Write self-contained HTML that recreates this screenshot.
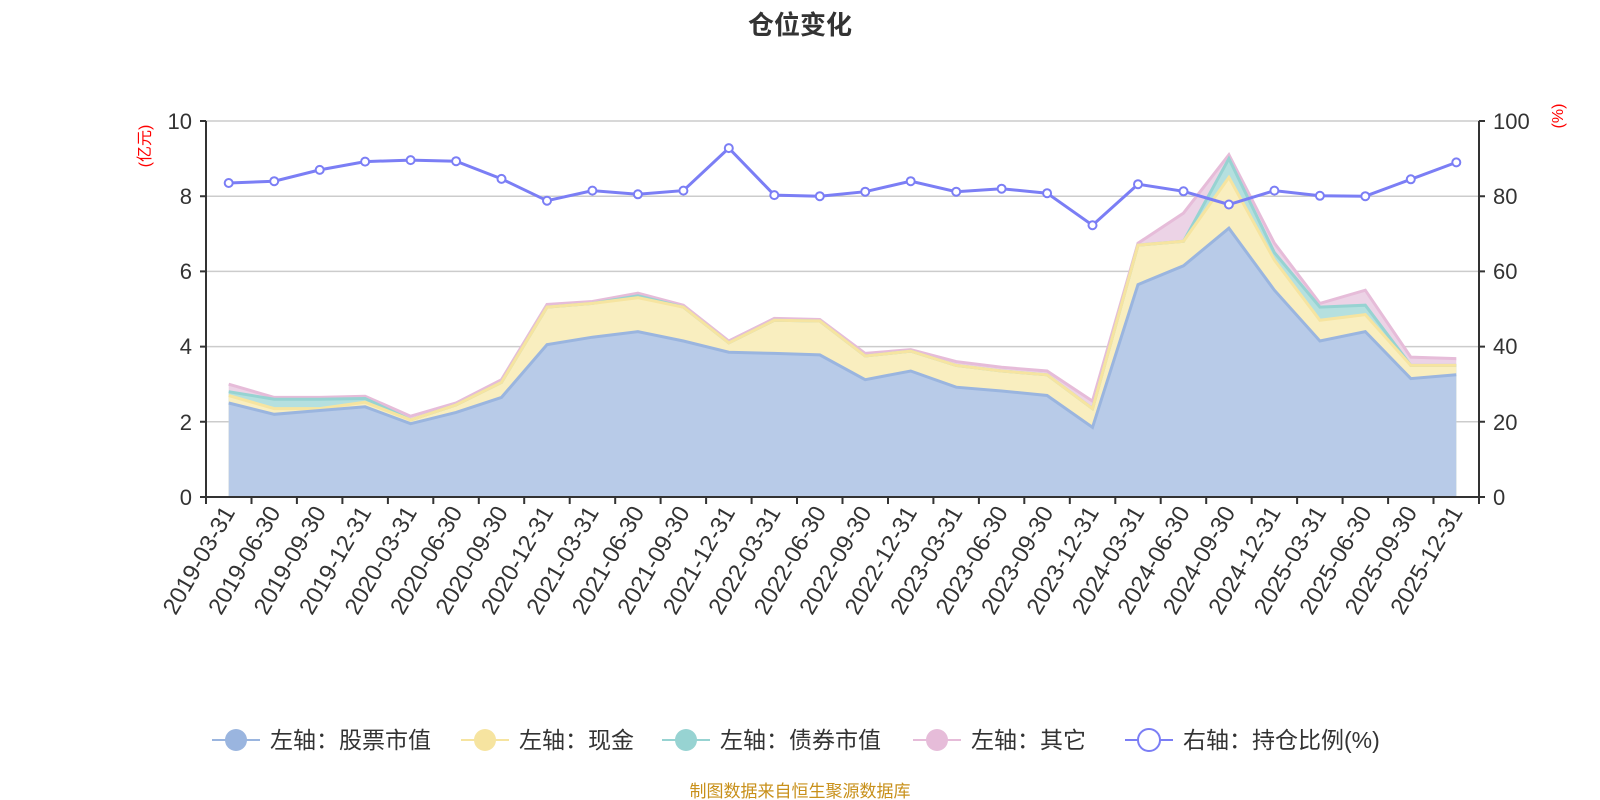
<!DOCTYPE html><html><head><meta charset="utf-8"><style>body{margin:0;background:#fff}svg{display:block}text{font-family:"Liberation Sans","Noto Sans CJK SC",sans-serif}</style></head><body>
<svg width="1600" height="800" xmlns="http://www.w3.org/2000/svg">
<text x="800" y="34" text-anchor="middle" font-size="26" font-weight="bold" fill="#333">仓位变化</text>
<g stroke="#ccc" stroke-width="1.5">
<line x1="206" x2="1479" y1="121" y2="121"/><line x1="206" x2="1479" y1="196.2" y2="196.2"/><line x1="206" x2="1479" y1="271.4" y2="271.4"/><line x1="206" x2="1479" y1="346.6" y2="346.6"/><line x1="206" x2="1479" y1="421.8" y2="421.8"/>
</g>
<g font-size="22" fill="#333">
<g text-anchor="end"><text x="192" y="129">10</text><text x="192" y="204">8</text><text x="192" y="279">6</text><text x="192" y="354">4</text><text x="192" y="430">2</text><text x="192" y="505">0</text></g>
<text x="1493" y="129">100</text><text x="1493" y="204">80</text><text x="1493" y="279">60</text><text x="1493" y="354">40</text><text x="1493" y="430">20</text><text x="1493" y="505">0</text>
</g>
<text transform="translate(150,146) rotate(-90)" text-anchor="middle" font-size="16" fill="red">(亿元)</text>
<text transform="translate(1563,116) rotate(-90)" text-anchor="middle" font-size="16" fill="red">(%)</text>

<polygon fill="#ecd3e6" points="228.7,384.2 274.2,397.4 319.7,397.4 365.1,396.2 410.6,416.2 456.1,403.0 501.5,379.7 547.0,304.5 592.4,301.5 637.9,293.2 683.4,305.2 728.8,341.0 774.3,318.4 819.8,319.5 865.2,353.4 910.7,349.6 956.2,361.6 1001.6,367.3 1047.1,371.0 1092.5,401.1 1138.0,243.2 1183.5,213.1 1228.9,154.8 1274.4,243.2 1319.9,303.4 1365.3,290.2 1410.8,357.1 1456.3,358.6 1456.3,497 228.7,497"/>
<polygon fill="#b5e0df" points="228.7,391.7 274.2,399.2 319.7,399.2 365.1,398.5 410.6,419.9 456.1,404.9 501.5,382.3 547.0,307.1 592.4,303.4 637.9,295.8 683.4,307.1 728.8,342.8 774.3,320.3 819.8,321.0 865.2,356.0 910.7,351.1 956.2,365.4 1001.6,371.0 1047.1,374.8 1092.5,408.6 1138.0,245.1 1183.5,241.3 1228.9,158.6 1274.4,252.6 1319.9,307.1 1365.3,305.2 1410.8,365.4 1456.3,365.4 1456.3,497 228.7,497"/>
<polygon fill="#f9eebf" points="228.7,395.5 274.2,408.6 319.7,408.6 365.1,402.2 410.6,419.9 456.1,404.9 501.5,382.3 547.0,307.1 592.4,303.4 637.9,297.7 683.4,307.1 728.8,342.8 774.3,320.3 819.8,321.0 865.2,356.0 910.7,351.1 956.2,365.4 1001.6,371.0 1047.1,374.8 1092.5,408.6 1138.0,245.1 1183.5,241.3 1228.9,177.4 1274.4,260.1 1319.9,320.3 1365.3,314.6 1410.8,365.4 1456.3,365.4 1456.3,497 228.7,497"/>
<polygon fill="#b8cbe8" points="228.7,403.0 274.2,414.3 319.7,410.5 365.1,406.8 410.6,423.7 456.1,412.4 501.5,397.4 547.0,344.7 592.4,337.2 637.9,331.6 683.4,341.0 728.8,352.2 774.3,353.4 819.8,354.9 865.2,379.7 910.7,371.0 956.2,387.2 1001.6,391.0 1047.1,395.5 1092.5,427.4 1138.0,284.6 1183.5,265.8 1228.9,228.2 1274.4,290.2 1319.9,341.0 1365.3,331.6 1410.8,378.6 1456.3,374.8 1456.3,497 228.7,497"/>
<g fill="none" stroke-width="3">
<polyline stroke="#e6bcd9" points="228.7,384.2 274.2,397.4 319.7,397.4 365.1,396.2 410.6,416.2 456.1,403.0 501.5,379.7 547.0,304.5 592.4,301.5 637.9,293.2 683.4,305.2 728.8,341.0 774.3,318.4 819.8,319.5 865.2,353.4 910.7,349.6 956.2,361.6 1001.6,367.3 1047.1,371.0 1092.5,401.1 1138.0,243.2 1183.5,213.1 1228.9,154.8 1274.4,243.2 1319.9,303.4 1365.3,290.2 1410.8,357.1 1456.3,358.6"/>
<polyline stroke="#97d3d2" points="228.7,391.7 274.2,399.2 319.7,399.2 365.1,398.5 410.6,419.9 456.1,404.9 501.5,382.3 547.0,307.1 592.4,303.4 637.9,295.8 683.4,307.1 728.8,342.8 774.3,320.3 819.8,321.0 865.2,356.0 910.7,351.1 956.2,365.4 1001.6,371.0 1047.1,374.8 1092.5,408.6 1138.0,245.1 1183.5,241.3 1228.9,158.6 1274.4,252.6 1319.9,307.1 1365.3,305.2 1410.8,365.4 1456.3,365.4"/>
<polyline stroke="#f6e4a0" points="228.7,395.5 274.2,408.6 319.7,408.6 365.1,402.2 410.6,419.9 456.1,404.9 501.5,382.3 547.0,307.1 592.4,303.4 637.9,297.7 683.4,307.1 728.8,342.8 774.3,320.3 819.8,321.0 865.2,356.0 910.7,351.1 956.2,365.4 1001.6,371.0 1047.1,374.8 1092.5,408.6 1138.0,245.1 1183.5,241.3 1228.9,177.4 1274.4,260.1 1319.9,320.3 1365.3,314.6 1410.8,365.4 1456.3,365.4"/>
<polyline stroke="#9ab5df" points="228.7,403.0 274.2,414.3 319.7,410.5 365.1,406.8 410.6,423.7 456.1,412.4 501.5,397.4 547.0,344.7 592.4,337.2 637.9,331.6 683.4,341.0 728.8,352.2 774.3,353.4 819.8,354.9 865.2,379.7 910.7,371.0 956.2,387.2 1001.6,391.0 1047.1,395.5 1092.5,427.4 1138.0,284.6 1183.5,265.8 1228.9,228.2 1274.4,290.2 1319.9,341.0 1365.3,331.6 1410.8,378.6 1456.3,374.8"/>
</g>
<g stroke="#333" stroke-width="2" fill="none">
<path d="M206 121V497H1479V121M200 121H206M200 196.2H206M200 271.4H206M200 346.6H206M200 421.8H206M200 497H206M1479 121H1485M1479 196.2H1485M1479 271.4H1485M1479 346.6H1485M1479 421.8H1485M1479 497H1485"/>
<path d="M206 497v7M251.5 497v7M296.9 497v7M342.4 497v7M387.9 497v7M433.3 497v7M478.8 497v7M524.2 497v7M569.7 497v7M615.2 497v7M660.6 497v7M706.1 497v7M751.6 497v7M797 497v7M842.5 497v7M888 497v7M933.4 497v7M978.9 497v7M1024.3 497v7M1069.8 497v7M1115.3 497v7M1160.7 497v7M1206.2 497v7M1251.7 497v7M1297.1 497v7M1342.6 497v7M1388.1 497v7M1433.5 497v7M1479 497v7"/>
</g>
<g font-size="23.5" fill="#333" text-anchor="end">
<text transform="translate(235.7,512) rotate(-60)">2019-03-31</text>
<text transform="translate(281.2,512) rotate(-60)">2019-06-30</text>
<text transform="translate(326.7,512) rotate(-60)">2019-09-30</text>
<text transform="translate(372.1,512) rotate(-60)">2019-12-31</text>
<text transform="translate(417.6,512) rotate(-60)">2020-03-31</text>
<text transform="translate(463.1,512) rotate(-60)">2020-06-30</text>
<text transform="translate(508.5,512) rotate(-60)">2020-09-30</text>
<text transform="translate(554.0,512) rotate(-60)">2020-12-31</text>
<text transform="translate(599.4,512) rotate(-60)">2021-03-31</text>
<text transform="translate(644.9,512) rotate(-60)">2021-06-30</text>
<text transform="translate(690.4,512) rotate(-60)">2021-09-30</text>
<text transform="translate(735.8,512) rotate(-60)">2021-12-31</text>
<text transform="translate(781.3,512) rotate(-60)">2022-03-31</text>
<text transform="translate(826.8,512) rotate(-60)">2022-06-30</text>
<text transform="translate(872.2,512) rotate(-60)">2022-09-30</text>
<text transform="translate(917.7,512) rotate(-60)">2022-12-31</text>
<text transform="translate(963.2,512) rotate(-60)">2023-03-31</text>
<text transform="translate(1008.6,512) rotate(-60)">2023-06-30</text>
<text transform="translate(1054.1,512) rotate(-60)">2023-09-30</text>
<text transform="translate(1099.5,512) rotate(-60)">2023-12-31</text>
<text transform="translate(1145.0,512) rotate(-60)">2024-03-31</text>
<text transform="translate(1190.5,512) rotate(-60)">2024-06-30</text>
<text transform="translate(1235.9,512) rotate(-60)">2024-09-30</text>
<text transform="translate(1281.4,512) rotate(-60)">2024-12-31</text>
<text transform="translate(1326.9,512) rotate(-60)">2025-03-31</text>
<text transform="translate(1372.3,512) rotate(-60)">2025-06-30</text>
<text transform="translate(1417.8,512) rotate(-60)">2025-09-30</text>
<text transform="translate(1463.3,512) rotate(-60)">2025-12-31</text>
</g>
<polyline fill="none" stroke="#7b7ef5" stroke-width="3" points="228.7,183.0 274.2,181.2 319.7,169.9 365.1,161.6 410.6,160.1 456.1,161.2 501.5,178.9 547.0,200.7 592.4,190.6 637.9,194.3 683.4,190.6 728.8,148.1 774.3,195.1 819.8,196.2 865.2,191.7 910.7,181.2 956.2,191.7 1001.6,188.7 1047.1,193.2 1092.5,225.2 1138.0,184.2 1183.5,191.3 1228.9,204.5 1274.4,190.6 1319.9,195.8 1365.3,196.2 1410.8,179.3 1456.3,162.4"/>
<g fill="#fff" stroke="#7b7ef5" stroke-width="2">
<circle cx="228.7" cy="183.0" r="4"/><circle cx="274.2" cy="181.2" r="4"/><circle cx="319.7" cy="169.9" r="4"/><circle cx="365.1" cy="161.6" r="4"/><circle cx="410.6" cy="160.1" r="4"/><circle cx="456.1" cy="161.2" r="4"/><circle cx="501.5" cy="178.9" r="4"/><circle cx="547.0" cy="200.7" r="4"/><circle cx="592.4" cy="190.6" r="4"/><circle cx="637.9" cy="194.3" r="4"/><circle cx="683.4" cy="190.6" r="4"/><circle cx="728.8" cy="148.1" r="4"/><circle cx="774.3" cy="195.1" r="4"/><circle cx="819.8" cy="196.2" r="4"/><circle cx="865.2" cy="191.7" r="4"/><circle cx="910.7" cy="181.2" r="4"/><circle cx="956.2" cy="191.7" r="4"/><circle cx="1001.6" cy="188.7" r="4"/><circle cx="1047.1" cy="193.2" r="4"/><circle cx="1092.5" cy="225.2" r="4"/><circle cx="1138.0" cy="184.2" r="4"/><circle cx="1183.5" cy="191.3" r="4"/><circle cx="1228.9" cy="204.5" r="4"/><circle cx="1274.4" cy="190.6" r="4"/><circle cx="1319.9" cy="195.8" r="4"/><circle cx="1365.3" cy="196.2" r="4"/><circle cx="1410.8" cy="179.3" r="4"/><circle cx="1456.3" cy="162.4" r="4"/>
</g>
<g stroke-width="2">
<line x1="212" x2="260" y1="740" y2="740" stroke="#9ab5df"/><circle cx="236" cy="740" r="11" fill="#9ab5df"/>
<line x1="461" x2="509" y1="740" y2="740" stroke="#f6e4a0"/><circle cx="485" cy="740" r="11" fill="#f6e4a0"/>
<line x1="662" x2="710" y1="740" y2="740" stroke="#97d3d2"/><circle cx="686" cy="740" r="11" fill="#97d3d2"/>
<line x1="913" x2="961" y1="740" y2="740" stroke="#e6bcd9"/><circle cx="937" cy="740" r="11" fill="#e6bcd9"/>
<line x1="1125" x2="1173" y1="740" y2="740" stroke="#7b7ef5"/><circle cx="1149" cy="740" r="11" fill="#fff" stroke="#7b7ef5"/>
</g>
<g font-size="23" fill="#333">
<text x="270" y="748">左轴：股票市值</text><text x="519" y="748">左轴：现金</text><text x="720" y="748">左轴：债券市值</text><text x="971" y="748">左轴：其它</text><text x="1183" y="748">右轴：持仓比例(%)</text>
</g>
<text x="800" y="797" text-anchor="middle" font-size="17" fill="#c8901a">制图数据来自恒生聚源数据库</text>
</svg>
</body></html>
